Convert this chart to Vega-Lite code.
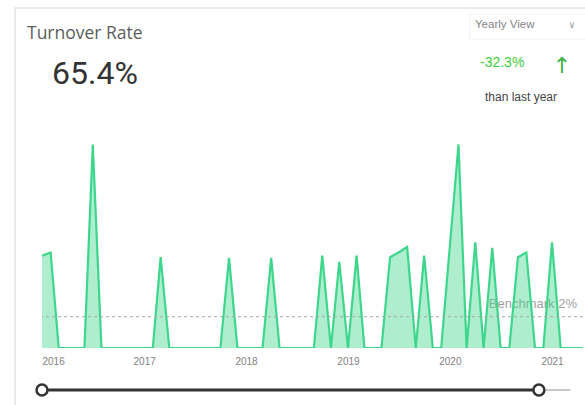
{
  "$schema": "https://vega.github.io/schema/vega-lite/v6.json",
  "width": 541,
  "height": 238,
  "autosize": {"type": "none"},
  "padding": {"left": 42, "top": 110, "right": 2, "bottom": 57},
  "background": "white",
  "config": {"view": {"stroke": null}, "font": "Liberation Sans"},
  "datasets": {
    "turnover": [
      {"month": "2016-01-01", "rate": 5.9},
      {"month": "2016-02-01", "rate": 6.1},
      {"month": "2016-03-01", "rate": 0},
      {"month": "2016-04-01", "rate": 0},
      {"month": "2016-05-01", "rate": 0},
      {"month": "2016-06-01", "rate": 0},
      {"month": "2016-07-01", "rate": 13.0},
      {"month": "2016-08-01", "rate": 0},
      {"month": "2016-09-01", "rate": 0},
      {"month": "2016-10-01", "rate": 0},
      {"month": "2016-11-01", "rate": 0},
      {"month": "2016-12-01", "rate": 0},
      {"month": "2017-01-01", "rate": 0},
      {"month": "2017-02-01", "rate": 0},
      {"month": "2017-03-01", "rate": 5.8},
      {"month": "2017-04-01", "rate": 0},
      {"month": "2017-05-01", "rate": 0},
      {"month": "2017-06-01", "rate": 0},
      {"month": "2017-07-01", "rate": 0},
      {"month": "2017-08-01", "rate": 0},
      {"month": "2017-09-01", "rate": 0},
      {"month": "2017-10-01", "rate": 0},
      {"month": "2017-11-01", "rate": 5.75},
      {"month": "2017-12-01", "rate": 0},
      {"month": "2018-01-01", "rate": 0},
      {"month": "2018-02-01", "rate": 0},
      {"month": "2018-03-01", "rate": 0},
      {"month": "2018-04-01", "rate": 5.75},
      {"month": "2018-05-01", "rate": 0},
      {"month": "2018-06-01", "rate": 0},
      {"month": "2018-07-01", "rate": 0},
      {"month": "2018-08-01", "rate": 0},
      {"month": "2018-09-01", "rate": 0},
      {"month": "2018-10-01", "rate": 5.9},
      {"month": "2018-11-01", "rate": 0},
      {"month": "2018-12-01", "rate": 5.5},
      {"month": "2019-01-01", "rate": 0},
      {"month": "2019-02-01", "rate": 5.9},
      {"month": "2019-03-01", "rate": 0},
      {"month": "2019-04-01", "rate": 0},
      {"month": "2019-05-01", "rate": 0},
      {"month": "2019-06-01", "rate": 5.8},
      {"month": "2019-07-01", "rate": 6.1},
      {"month": "2019-08-01", "rate": 6.45},
      {"month": "2019-09-01", "rate": 0},
      {"month": "2019-10-01", "rate": 5.9},
      {"month": "2019-11-01", "rate": 0},
      {"month": "2019-12-01", "rate": 0},
      {"month": "2020-01-01", "rate": 6.5},
      {"month": "2020-02-01", "rate": 13.0},
      {"month": "2020-03-01", "rate": 0},
      {"month": "2020-04-01", "rate": 6.75},
      {"month": "2020-05-01", "rate": 0},
      {"month": "2020-06-01", "rate": 6.4},
      {"month": "2020-07-01", "rate": 0},
      {"month": "2020-08-01", "rate": 0},
      {"month": "2020-09-01", "rate": 5.8},
      {"month": "2020-10-01", "rate": 6.1},
      {"month": "2020-11-01", "rate": 0},
      {"month": "2020-12-01", "rate": 0},
      {"month": "2021-01-01", "rate": 6.75},
      {"month": "2021-02-01", "rate": 0},
      {"month": "2021-03-01", "rate": 0},
      {"month": "2021-04-01", "rate": 0},
      {"month": "2021-05-01", "rate": 0}
    ],
    "range": [{"from": "2016-01-01", "to": "2020-11-15", "tail": "2021-03-08"}],
    "handles": [{"at": "2016-01-01"}, {"at": "2020-11-15"}],
    "benchmark": [{"label": "Benchmark 2%", "rate": 2}],
    "header": [{"name": "Turnover Rate"}]
  },
  "layer": [
    {
      "data": {"name": "header"},
      "mark": {"type": "rect", "fill": "transparent", "stroke": "#e4e4e4", "strokeWidth": 1.5},
      "encoding": {
        "x": {"value": -27}, "x2": {"value": 560},
        "y": {"value": -102}, "y2": {"value": 320}
      }
    },
    {
      "data": {"name": "header"},
      "mark": {"type": "rect", "fill": "transparent", "stroke": "#f2f2f2", "strokeWidth": 1},
      "encoding": {
        "x": {"value": 428}, "x2": {"value": 560},
        "y": {"value": -96}, "y2": {"value": -71}
      }
    },
    {
      "data": {"name": "header"},
      "mark": {"type": "text", "text": "Turnover Rate", "font": "Open Sans", "fontSize": 17.5, "color": "#5c5c5c", "align": "left", "baseline": "alphabetic"},
      "encoding": {"x": {"value": -15}, "y": {"value": -71}}
    },
    {
      "data": {"name": "header"},
      "mark": {"type": "text", "text": "65.4%", "font": "Roboto", "fontSize": 32, "color": "#333333", "align": "left", "baseline": "alphabetic"},
      "encoding": {"x": {"value": 10}, "y": {"value": -26}}
    },
    {
      "data": {"name": "header"},
      "mark": {"type": "text", "text": "Yearly View", "fontSize": 11.5, "color": "#858585", "align": "left", "baseline": "middle"},
      "encoding": {"x": {"value": 433}, "y": {"value": -85}}
    },
    {
      "data": {"name": "header"},
      "mark": {"type": "text", "text": "∨", "font": "DejaVu Sans", "fontSize": 10, "color": "#a0a0a0", "align": "center", "baseline": "middle"},
      "encoding": {"x": {"value": 530}, "y": {"value": -85}}
    },
    {
      "data": {"name": "header"},
      "mark": {"type": "text", "text": "-32.3%", "fontSize": 14, "color": "#3ccf3c", "align": "left", "baseline": "middle"},
      "encoding": {"x": {"value": 438}, "y": {"value": -47}}
    },
    {
      "data": {"name": "header"},
      "mark": {"type": "text", "text": "↑", "font": "DejaVu Sans", "fontSize": 22, "color": "#3cb043", "align": "center", "baseline": "middle"},
      "encoding": {"x": {"value": 520}, "y": {"value": -44}}
    },
    {
      "data": {"name": "header"},
      "mark": {"type": "text", "text": "than last year", "fontSize": 12, "color": "#444444", "align": "left", "baseline": "middle"},
      "encoding": {"x": {"value": 443}, "y": {"value": -13}}
    },
    {
      "data": {"name": "benchmark"},
      "mark": {"type": "text", "fontSize": 13, "color": "#a0a0a0", "align": "right", "baseline": "middle", "dx": -6, "dy": -13},
      "encoding": {
        "x": {"value": 541},
        "y": {"field": "rate", "type": "quantitative", "scale": {"domain": [0, 15.2], "nice": false, "zero": true}, "axis": null},
        "text": {"field": "label", "type": "nominal"}
      }
    },
    {
      "data": {"name": "turnover"},
      "mark": {
        "type": "area",
        "clip": true,
        "color": "#3dd68c",
        "opacity": 0.42,
        "line": {"color": "#3dd68c", "strokeWidth": 2.2, "opacity": 1}
      },
      "encoding": {
        "x": {
          "field": "month",
          "type": "temporal",
          "scale": {"type": "utc", "domain": ["2016-01-01", "2021-04-22"]},
          "axis": {
            "title": null,
            "format": "%Y",
            "formatType": "utc",
            "tickCount": {"interval": "year", "step": 1},
            "domain": false,
            "ticks": false,
            "grid": false,
            "labelFont": "Liberation Sans",
            "labelFontSize": 10,
            "labelColor": "#808080",
            "labelPadding": 8
          }
        },
        "y": {
          "field": "rate",
          "type": "quantitative",
          "scale": {"domain": [0, 15.2], "nice": false, "zero": true},
          "axis": null
        }
      }
    },
    {
      "data": {"name": "benchmark"},
      "mark": {"type": "rule", "color": "#a8a8a8", "strokeWidth": 1, "strokeDash": [3, 3]},
      "encoding": {"y": {"field": "rate", "type": "quantitative"}}
    },
    {
      "data": {"name": "range"},
      "mark": {"type": "rule", "color": "#c8c8c8", "strokeWidth": 2},
      "encoding": {
        "x": {"field": "to", "type": "temporal"},
        "x2": {"field": "tail"},
        "y": {"value": 280}
      }
    },
    {
      "data": {"name": "range"},
      "mark": {"type": "rule", "color": "#333333", "strokeWidth": 3},
      "encoding": {
        "x": {"field": "from", "type": "temporal"},
        "x2": {"field": "to"},
        "y": {"value": 280}
      }
    },
    {
      "data": {"name": "handles"},
      "mark": {"type": "point", "shape": "circle", "filled": false, "fill": "white", "fillOpacity": 1, "stroke": "#333333", "strokeWidth": 2.5, "size": 120, "opacity": 1},
      "encoding": {
        "x": {"field": "at", "type": "temporal"},
        "y": {"value": 280}
      }
    }
  ]
}
